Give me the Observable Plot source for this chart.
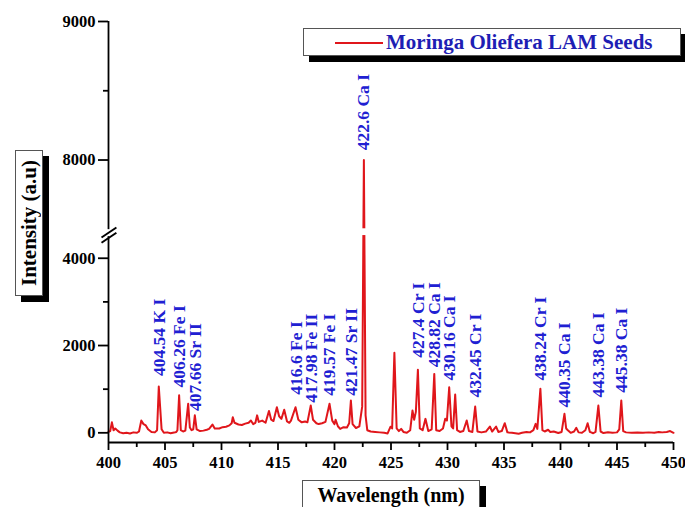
<!DOCTYPE html>
<html>
<head>
<meta charset="utf-8">
<script src="https://cdn.jsdelivr.net/npm/d3@7"></script>
<script src="https://cdn.jsdelivr.net/npm/@observablehq/plot@0.6"></script>
<style>
  html, body { margin: 0; padding: 0; background: #fff; }
  #wrap { position: relative; width: 685px; height: 507px; overflow: hidden; font-family: "Liberation Serif", "Times New Roman", serif; }
  .box { position: absolute; background: #fff; border: 1px solid #555; box-shadow: 6px 6px 0 #000; box-sizing: border-box; }
  #ytitle { left: 15px; top: 150px; width: 28px; height: 146px; display: flex; align-items: center; justify-content: center; }
  #ytitle span { writing-mode: vertical-rl; transform: rotate(180deg); font-weight: bold; font-size: 21px; white-space: nowrap; }
  #xtitle { left: 302px; top: 480px; width: 178px; height: 40px; text-align: center; font-weight: bold; font-size: 20px; line-height: 28px; }
  #legend { left: 303px; top: 28px; width: 378px; height: 28px; }
  #legend svg { position: absolute; left: 0; top: 0; }
</style>
</head>
<body>
<div id="wrap">
  <div id="chart"></div>
  <div class="box" id="ytitle"><span>Intensity (a.u)</span></div>
  <div class="box" id="xtitle">Wavelength (nm)</div>
  <div class="box" id="legend"></div>
</div>
<script>
// ---- data ----
const wavelength = [
  400.0, 400.15, 400.3, 400.45, 400.6, 400.8, 401.0, 401.3, 401.6, 401.9, 402.2, 402.5, 402.7, 402.9, 403.1, 403.3, 403.5, 403.8,
  404.1, 404.3, 404.45, 404.7, 404.9, 405.2, 405.5, 405.8, 406.0, 406.1, 406.25, 406.4, 406.6, 406.8, 407.05, 407.2, 407.35, 407.5,
  407.64, 407.8, 408.1, 408.4, 408.7, 408.9, 409.2, 409.4, 409.8, 410.1, 410.4, 410.7, 410.9, 411.0, 411.15, 411.5, 411.8, 412.1,
  412.4, 412.6, 412.8, 413.0, 413.15, 413.3, 413.6, 413.9, 414.2, 414.4, 414.6, 414.9, 415.1, 415.3, 415.55, 415.8, 416.0, 416.15,
  416.55, 416.8, 417.1, 417.4, 417.6, 417.9, 418.1, 418.4, 418.6, 418.9, 419.2, 419.56, 419.8, 420.0, 420.1, 420.3, 420.5, 420.8,
  421.1, 421.3, 421.45, 421.6, 421.9, 422.2, 422.45, 422.6, 422.75, 422.9, 423.2, 423.6, 424.0, 424.4, 424.7, 424.96, 425.1, 425.3,
  425.5, 425.7, 425.9, 426.1, 426.4, 426.7, 426.9, 427.05, 427.2, 427.38, 427.55, 427.8, 428.05, 428.3, 428.6, 428.83, 429.0, 429.3,
  429.6, 429.8, 429.95, 430.15, 430.35, 430.5, 430.68, 430.85, 431.1, 431.4, 431.7, 431.9, 432.2, 432.45, 432.65, 433.0, 433.4, 433.75,
  433.95, 434.3, 434.5, 434.8, 435.07, 435.3, 435.7, 436.0, 436.3, 436.6, 437.0, 437.3, 437.6, 437.8, 437.95, 438.22, 438.4, 438.6,
  438.9, 439.1, 439.4, 439.8, 440.1, 440.35, 440.5, 440.65, 440.9, 441.2, 441.4, 441.6, 441.9, 442.2, 442.4, 442.6, 442.9, 443.1,
  443.35, 443.55, 443.8, 444.2, 444.6, 445.0, 445.2, 445.38, 445.55, 445.8, 446.3, 446.8, 447.3, 447.8, 448.3, 448.7, 449.0, 449.4,
  449.7, 450.0
];
const intensity = [
  20, 40, 240, 60, 100, 50, 10, -10, 0, -15, 10, 0, 30, 280, 200, 170, 80, 20,
  10, 60, 1060, 80, 0, 10, -10, 5, 20, 60, 860, 60, 30, 50, 664, 120, 60, 80,
  400, 80, 40, 50, 70, 90, 190, 100, 100, 130, 140, 170, 220, 358, 230, 190, 180, 210,
  230, 282, 200, 230, 400, 250, 280, 230, 500, 300, 270, 587, 380, 320, 527, 260, 230, 280,
  587, 300, 240, 260, 240, 625, 300, 220, 200, 220, 250, 664, 280, 200, 300, 150, 90, 130,
  120, 220, 740, 200, 110, 150, 600, 8000, 400, 60, 30, 20, 10, 0, -15, 140, 100, 1832,
  100, 40, 90, 20, 0, 60, 510, 300, 480, 1443, 100, 60, 320, 40, 80, 1350, 60, 40,
  100, 320, 280, 1045, 150, 100, 877, 60, 20, 40, 282, 40, 20, 602, 30, 10, 30, 144,
  30, 144, 20, 40, 220, 10, 0, -10, -20, 0, 20, 10, 60, 205, 90, 1007, 60, 30,
  70, 20, 30, -5, 20, 435, 100, 60, 0, 30, 114, 10, 0, 60, 220, 20, -10, 20,
  625, 30, -5, 15, 0, 10, 80, 740, 40, 10, 0, 5, 0, 10, 0, 20, 10, 20,
  40, 0
];
const lineWavelength = [404.54, 406.26, 407.66, 416.6, 417.98, 419.57, 421.47, 422.6, 427.4, 428.82, 430.16, 432.45, 438.24, 440.35, 443.38, 445.38];
const lineLabel = ["404.54 K I", "406.26 Fe I", "407.66 Sr II", "416.6 Fe I", "417.98 Fe II", "419.57 Fe I", "421.47 Sr II", "422.6 Ca I",
  "427.4 Cr I", "428.82 Ca I", "430.16 Ca I", "432.45 Cr I", "438.24 Cr I", "440.35 Ca I", "443.38 Ca I", "445.38 Ca I"];
const labelBase = [1300, 1040, 500, 875, 690, 850, 850, 8070, 1720, 1500, 1200, 810, 1200, 580, 810, 920];
const xMajorTicks = [400, 405, 410, 415, 420, 425, 430, 435, 440, 445, 450];
const xMinorTicks = [402.5, 407.5, 412.5, 417.5, 422.5, 427.5, 432.5, 437.5, 442.5, 447.5];
const yMajorTicks = [0, 2000, 4000, 8000, 9000];
const yMinorTicks = [1000, 3000, 8500];
const seriesName = "Moringa Oliefera LAM Seeds";

// ---- broken y axis: lower segment [yMin, 4564], upper segment [7468, 9000] ----
const yMin = -222, yMax = 9000;
const lowTop = 4564, upAnchor = 8000, upAnchorPos = 6251, upStretch = 3.174;
const disp = v => (v <= lowTop ? v : upAnchorPos + (v - upAnchor) * upStretch);
const breakLow = 4495, breakHigh = 4655;

const spectrum = wavelength.map((w, i) => ({w, v: intensity[i]}));
const labels = lineWavelength.map((w, i) => ({w, text: lineLabel[i], at: labelBase[i]}));
const yLabelMap = new Map(yMajorTicks.map(v => [disp(v), String(v)]));
const [xLo, xHi] = [xMajorTicks[0], xMajorTicks[xMajorTicks.length - 1]];

const red = "#e0161b";
const blue = "#2020d2";
const fontFamily = "'Liberation Serif', 'Times New Roman', serif";

const chart = Plot.plot({
  width: 685,
  height: 507,
  marginLeft: 108,
  marginRight: 12,
  marginTop: 21,
  marginBottom: 65,
  x: {domain: [xLo, xHi]},
  y: {domain: [disp(yMin), disp(yMax)]},
  style: {fontFamily, fontSize: "16.5px", fontWeight: "bold", color: "#000", background: "transparent", overflow: "visible"},
  marks: [
    Plot.line(spectrum, {x: "w", y: d => disp(d.v), stroke: red, strokeWidth: 2}),
    // gap across the break
    Plot.rect([0], {x1: xLo + 0.3, x2: xHi, y1: breakLow + 25, y2: breakHigh + 20, fill: "white"}),
    // axis lines
    Plot.ruleX([xLo], {y1: disp(yMin), y2: breakLow, stroke: "#000", strokeWidth: 1.8}),
    Plot.ruleX([xLo], {y1: breakHigh, y2: disp(yMax), stroke: "#000", strokeWidth: 1.8}),
    Plot.ruleY([disp(yMin)], {stroke: "#000", strokeWidth: 1.8}),
    // break marks
    Plot.link([0, 1], {
      x1: xLo - 0.62, x2: xLo + 0.7,
      y1: d => breakLow - 140 + d * 120, y2: d => breakLow + 90 + d * 120,
      stroke: "#000", strokeWidth: 2
    }),
    // axes
    Plot.axisY({ticks: yMajorTicks.map(disp), tickFormat: d => yLabelMap.get(d), tickSize: 10, tickPadding: 3, strokeWidth: 1.8, label: null}),
    Plot.axisY({ticks: yMinorTicks.map(disp), tickFormat: () => "", tickSize: 5, strokeWidth: 1.8, label: null}),
    Plot.axisX({ticks: xMajorTicks, tickFormat: d => String(d), tickSize: 8, tickPadding: 6, strokeWidth: 1.8, label: null}),
    Plot.axisX({ticks: xMinorTicks, tickFormat: () => "", tickSize: 5, strokeWidth: 1.8, label: null}),
    // line labels
    Plot.text(labels, {x: "w", y: d => disp(d.at), text: "text", rotate: -90, textAnchor: "start",
      fill: blue, fontSize: 17.5, fontWeight: "bold", fontFamily})
  ]
});
document.getElementById("chart").appendChild(chart);

// legend
const lg = d3.select("#legend").append("svg").attr("width", 376).attr("height", 26);
lg.append("line").attr("x1", 31).attr("x2", 79).attr("y1", 14).attr("y2", 14).attr("stroke", red).attr("stroke-width", 2);
lg.append("text").attr("x", 82).attr("y", 20).attr("fill", "#1e1eb4").attr("font-weight", "bold")
  .attr("font-size", 21).attr("font-family", fontFamily).text(seriesName);
</script>
</body>
</html>
